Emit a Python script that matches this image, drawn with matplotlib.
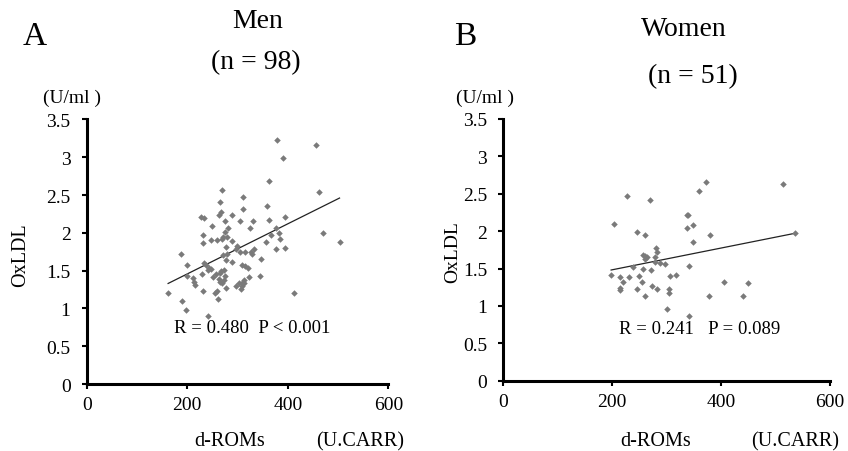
import matplotlib
matplotlib.use("Agg")
from matplotlib import pyplot as plt

plt.rcParams['font.family'] = ['Liberation Serif', 'DejaVu Serif']

# Men: d-ROMs (U.CARR) vs OxLDL (U/ml)
men_x = [379, 456, 391, 363, 463, 269, 266, 310, 311, 358, 227, 234, 264, 268, 290,
         276, 306, 330, 362, 395, 249, 281, 325, 276, 231, 377, 383, 367, 385, 471,
         231, 247, 260, 269, 272, 279, 290, 356, 504, 277, 300, 306, 314, 326, 332,
         328, 376, 395, 187, 271, 279, 277, 290, 346, 199, 234, 238, 243, 248, 308,
         314, 320, 241, 274, 199, 230, 257, 266, 275, 251, 212, 214, 216, 263, 266,
         270, 274, 322, 344, 297, 304, 309, 313, 308, 307, 277, 232, 255, 259, 162,
         412, 189, 262, 198, 241, 312, 268, 298]
men_y = [3.23, 3.16, 2.99, 2.69, 2.54, 2.57, 2.41, 2.48, 2.31, 2.35, 2.21, 2.20, 2.24, 2.27, 2.23,
         2.15, 2.15, 2.16, 2.17, 2.21, 2.09, 2.06, 2.07, 2.01, 1.97, 2.06, 2.00, 1.97, 1.92, 2.00,
         1.87, 1.91, 1.90, 1.92, 1.94, 1.94, 1.89, 1.88, 1.88, 1.81, 1.83, 1.75, 1.75, 1.75, 1.79,
         1.72, 1.79, 1.80, 1.72, 1.70, 1.72, 1.64, 1.61, 1.66, 1.57, 1.60, 1.57, 1.53, 1.52, 1.58,
         1.56, 1.54, 1.51, 1.51, 1.43, 1.46, 1.46, 1.47, 1.43, 1.41, 1.40, 1.35, 1.31, 1.39, 1.35,
         1.34, 1.37, 1.42, 1.43, 1.30, 1.33, 1.34, 1.34, 1.30, 1.26, 1.27, 1.23, 1.21, 1.23, 1.21,
         1.20, 1.10, 1.12, 0.98, 0.90, 1.37, 1.50, 1.79]
men_fit_x = [162, 503]
men_fit_y = [1.33, 2.46]

# Women
women_x = [372, 514, 359, 228, 270, 338, 339, 204, 348, 338, 245, 260, 380, 535, 348,
           280, 283, 279, 257, 261, 264, 260, 288, 297, 341, 238, 256, 272, 197, 215,
           230, 250, 306, 318, 219, 254, 274, 214, 214, 245, 283, 304, 304, 261, 378,
           405, 449, 441, 301, 341, 279]
women_y = [2.65, 2.63, 2.53, 2.47, 2.41, 2.22, 2.21, 2.09, 2.08, 2.04, 1.99, 1.95, 1.95, 1.98, 1.86,
           1.77, 1.72, 1.66, 1.68, 1.67, 1.65, 1.63, 1.57, 1.56, 1.54, 1.52, 1.49, 1.48, 1.41, 1.39,
           1.39, 1.40, 1.40, 1.41, 1.32, 1.32, 1.27, 1.24, 1.21, 1.22, 1.23, 1.22, 1.17, 1.13, 1.13,
           1.32, 1.31, 1.13, 0.96, 0.86, 1.59]
women_fit_x = [198, 535]
women_fit_y = [1.48, 1.97]

x_ticks = [0, 200, 400, 600]
y_ticks = [0, 0.5, 1, 1.5, 2, 2.5, 3, 3.5]
y_tick_labels = ["0", "0.5", "1", "1.5", "2", "2.5", "3", "3.5"]

W, H = 848, 452
fig = plt.figure(figsize=(W / 100, H / 100), dpi=100)
ax1 = fig.add_axes([0.1022, 0.1482, 0.3557, 0.5854])
ax2 = fig.add_axes([0.5935, 0.1555, 0.3853, 0.5792])

panels = [
    (ax1, men_x, men_y, men_fit_x, men_fit_y),
    (ax2, women_x, women_y, women_fit_x, women_fit_y),
]
for ax, xs, ys, fx, fy in panels:
    ax.scatter(xs, ys, marker='D', s=11, color='#7a7a7a', linewidths=0, zorder=3)
    ax.plot(fx, fy, color='#222222', linewidth=0.9, zorder=2)
    ax.set_xlim(0, 600)
    ax.set_ylim(0, 3.5)
    ax.set_xticks(x_ticks)
    ax.set_yticks(y_ticks)
    ax.set_yticklabels(y_tick_labels)
    ax.spines['top'].set_visible(False)
    ax.spines['right'].set_visible(False)
    ax.spines['left'].set_linewidth(2.2)
    ax.spines['bottom'].set_linewidth(2.2)
    ax.tick_params(direction='out', length=3.6, width=1.5, labelsize=14)
    ax.tick_params(axis='y', pad=8)
    ax.tick_params(axis='x', pad=5)
    ax.patch.set_alpha(0)


def txt(x, y, s, size, **kw):
    fig.text(x / W, 1 - y / H, s, fontsize=size, ha='center', va='center', **kw)


txt(35, 37, "A", 24)
txt(258, 22, "Men", 20)
txt(256, 63, "(n = 98)", 20)
txt(72, 98, "(U/ml )", 14)
txt(20.5, 255, "OxLDL", 14.5, rotation=90)
txt(230, 442, "d-ROMs", 14.5)
txt(360, 442, "(U.CARR)", 14.5)
txt(252, 329, "R = 0.480  P < 0.001", 13.5)

txt(465, 37, "B", 24)
txt(684, 30, "Women", 20)
txt(693, 77, "(n = 51)", 20)
txt(485, 98, "(U/ml )", 14)
txt(453, 252, "OxLDL", 14, rotation=90)
txt(656, 442, "d-ROMs", 14.5)
txt(795, 442, "(U.CARR)", 14.5)
txt(700, 330, "R = 0.241   P = 0.089", 13.5)

fig.savefig("out.png", dpi=100)
